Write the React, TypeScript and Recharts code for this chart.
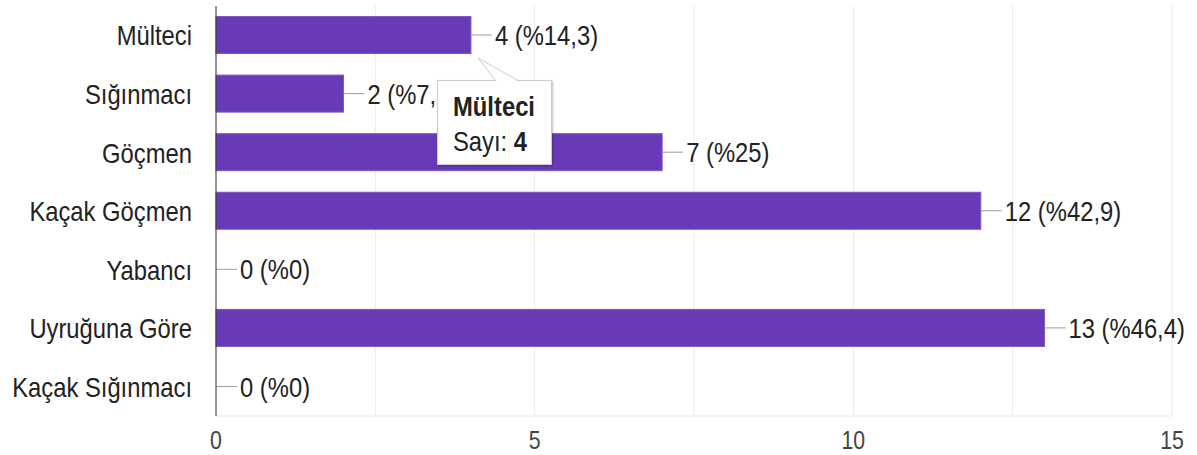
import { Bar, BarChart, CartesianGrid, Tooltip, XAxis, YAxis } from "recharts";

const categories = [
  "Mülteci",
  "Sığınmacı",
  "Göçmen",
  "Kaçak Göçmen",
  "Yabancı",
  "Uyruğuna Göre",
  "Kaçak Sığınmacı",
];
const counts = [4, 2, 7, 12, 0, 13, 0];
const percents = ["%14,3", "%7,1", "%25", "%42,9", "%0", "%46,4", "%0"];
const gridTicks = [0, 2.5, 5, 7.5, 10, 12.5, 15];
const labelledTicks = [0, 5, 10, 15];

const data = categories.map((name, i) => ({
  name,
  count: counts[i],
  label: `${counts[i]} (${percents[i]})`,
}));

const FONT = '"Liberation Sans", Arial, sans-serif';
const SQUEEZE = 0.85; // the reference text is rendered narrow

function NarrowText({ x, y, anchor, size, fill, dy, children }: any) {
  return (
    <text
      transform={`translate(${x},${y}) scale(${SQUEEZE},1)`}
      textAnchor={anchor}
      dy={dy}
      fontSize={size}
      fontFamily={FONT}
      fill={fill}
    >
      {children}
    </text>
  );
}

function CategoryTick({ x, y, payload }: any) {
  return (
    <NarrowText x={x} y={y} anchor="end" size={28} fill="#222" dy="0.36em">
      {payload.value}
    </NarrowText>
  );
}

function ValueTick({ x, y, payload }: any) {
  if (!labelledTicks.includes(payload.value)) return <g />;
  return (
    <NarrowText x={x} y={y} anchor="middle" size={25} fill="#444" dy="0.71em">
      {String(payload.value)}
    </NarrowText>
  );
}

function BarWithLabel(props: any) {
  const { x, y, width, height, payload, fill } = props;
  const w = Math.max(0, Number(width) || 0);
  const x0 = Number(x) + w;
  const cy = Number(y) + Number(height) / 2;
  return (
    <g>
      {w > 0 && (
        <rect x={x} y={y} width={w} height={height} fill={fill} stroke="#7e57c2" strokeWidth={1} />
      )}
      <line x1={x0} y1={cy} x2={x0 + 21} y2={cy} stroke="#9e9e9e" strokeWidth={1} />
      <NarrowText x={x0 + 24} y={cy} anchor="start" size={28} fill="#222" dy="0.36em">
        {payload.label}
      </NarrowText>
    </g>
  );
}

function TipBox({ active, payload }: any) {
  if (!active || !payload || !payload.length) return null;
  const row = payload[0].payload;
  const line = {
    transform: `scaleX(${SQUEEZE})`,
    transformOrigin: "left center",
    height: 35,
  };
  return (
    <div
      style={{
        position: "relative",
        boxSizing: "border-box",
        width: 115,
        height: 85,
        background: "#fff",
        border: "1px solid #cccccc",
        boxShadow: "1px 1px 2px rgba(0,0,0,0.25)",
        padding: "8px 0 0 15px",
        fontFamily: FONT,
        fontSize: 28,
        color: "#222",
        lineHeight: "35px",
        whiteSpace: "nowrap",
      }}
    >
      <svg
        width={84}
        height={24}
        style={{ position: "absolute", left: 0, top: -23, overflow: "visible" }}
      >
        <polygon points="40,0 58,24 81,24" fill="#fff" />
        <polyline points="58,23 40,0 81,23" fill="none" stroke="#cccccc" strokeWidth={1} />
      </svg>
      <div style={{ ...line, fontWeight: "bold" }}>{row.name}</div>
      <div style={line}>
        Sayı: <b>{row.count}</b>
      </div>
    </div>
  );
}

export default function App() {
  return (
    <div style={{ position: "absolute", left: 0, top: 0, background: "#fff", fontFamily: FONT }}>
      <BarChart
        width={1197}
        height={455}
        data={data}
        layout="vertical"
        margin={{ top: 6, right: 25, bottom: 0, left: 0 }}
        barCategoryGap="18%"
      >
        <CartesianGrid stroke="#ebebeb" horizontal={false} />
        <XAxis
          type="number"
          domain={[0, 15]}
          ticks={gridTicks}
          interval={0}
          height={39}
          axisLine={{ stroke: "#ebebeb" }}
          tickLine={false}
          tickSize={0}
          tickMargin={15}
          tick={<ValueTick />}
        />
        <XAxis
          xAxisId="top"
          type="number"
          orientation="top"
          domain={[0, 15]}
          height={0}
          tick={false}
          tickLine={false}
          axisLine={{ stroke: "#ebebeb" }}
        />
        <YAxis
          type="category"
          dataKey="name"
          width={216}
          axisLine={{ stroke: "#333" }}
          tickLine={false}
          tickSize={0}
          tickMargin={24}
          interval={0}
          tick={<CategoryTick />}
        />
        <Tooltip
          content={<TipBox />}
          defaultIndex={0}
          active
          cursor={false}
          position={{ x: 437, y: 80 }}
          isAnimationActive={false}
          wrapperStyle={{ outline: "none" }}
        />
        <Bar
          dataKey="count"
          fill="#673ab7"
          shape={<BarWithLabel />}
          isAnimationActive={false}
          activeBar={false}
        />
      </BarChart>
    </div>
  );
}
